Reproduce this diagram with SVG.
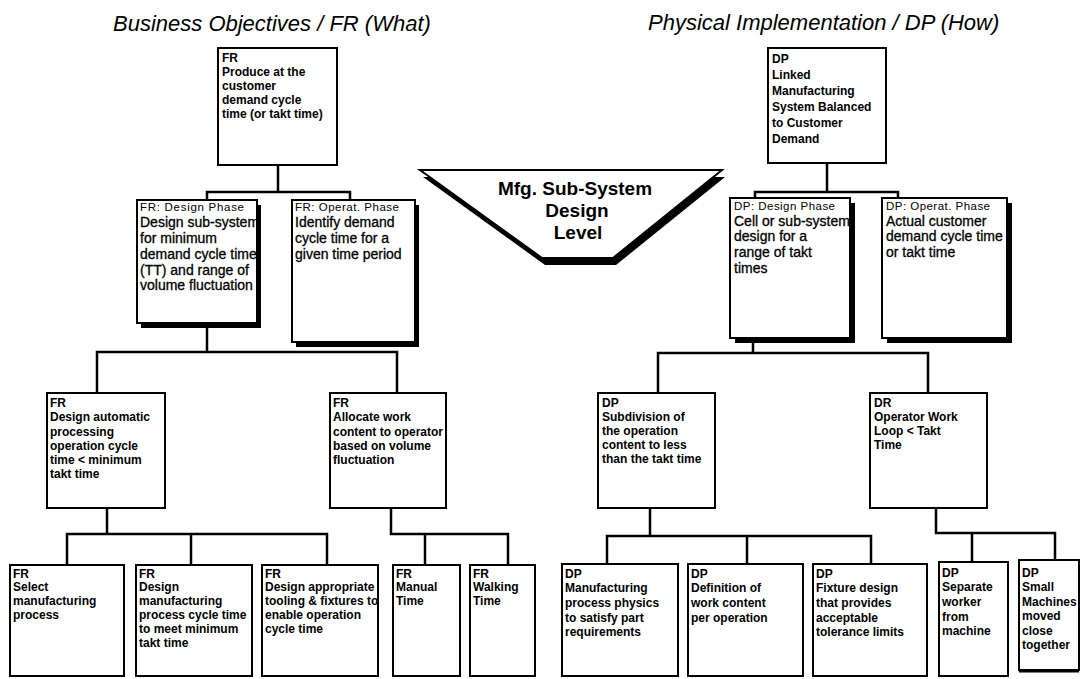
<svg xmlns="http://www.w3.org/2000/svg" width="1080" height="679" viewBox="0 0 1080 679">
  <style>
    .title { font-family: "Liberation Sans", Arial, sans-serif; font-style: italic; font-size: 22px; fill: #000; }
    .box { fill: #fff; stroke: #000; stroke-width: 2; }
    .shadow { fill: #000; }
    .t { font-family: "Liberation Sans", Arial, sans-serif; font-weight: bold; font-size: 12px; fill: #000; }
    .h { font-family: "Liberation Sans", Arial, sans-serif; font-size: 11.5px; fill: #000; }
    .b { font-family: "Liberation Sans", Arial, sans-serif; font-size: 14px; fill: #000; stroke: #000; stroke-width: 0.3; }
    .lvl { font-family: "Liberation Sans", Arial, sans-serif; font-weight: bold; font-size: 19px; fill: #000; text-anchor: middle; }
    .conn { fill: none; stroke: #000; stroke-width: 2.5; }
  </style>

  <rect width="1080" height="679" fill="#fff"/>

  <!-- column headings -->
  <text class="title" x="113" y="31">Business Objectives / FR (What)</text>
  <text class="title" x="648" y="30">Physical Implementation / DP (How)</text>

  <!-- tree connectors -->
  <g id="connectors">
    <path class="conn" d="M278,165 V192 M207,200 V192 H350 V200"/>
    <path class="conn" d="M827,163 V192 M755,198 V192 H898 V198"/>
    <path class="conn" d="M207,325 V352 M97,393 V352 H397 V393"/>
    <path class="conn" d="M753,339 V353 M658,393 V353 H928 V393"/>
    <path class="conn" d="M107,508 V534 M67,565 V534 H327 V565 M191,534 V565"/>
    <path class="conn" d="M391,508 V534 H508 V565 M425,534 V565"/>
    <path class="conn" d="M650,508 V536 M607,564 V536 H871 V564 M747,536 V564"/>
    <path class="conn" d="M936,508 V533 H1055 V560 M972,533 V562"/>
  </g>

  <!-- level marker -->
  <g id="level-marker">
    <polygon class="shadow" points="423,177 725,177 616,265 545,265"/>
    <polygon class="box" points="420,170 722,170 613,258 542,258"/>
    <text class="lvl" x="575" y="195">Mfg. Sub-System</text>
    <text class="lvl" x="577" y="217">Design</text>
    <text class="lvl" x="578" y="239">Level</text>
  </g>

  <!-- FR top -->
  <g id="fr-top">
    <rect class="box" x="218" y="48" width="119" height="117"/>
    <svg x="219" y="49" width="117" height="115">
      <text class="t" x="3" y="13">FR</text>
      <text class="t" x="3" y="27">Produce at the</text>
      <text class="t" x="3" y="41">customer</text>
      <text class="t" x="3" y="55">demand cycle</text>
      <text class="t" x="3" y="69">time (or takt time)</text>
    </svg>
  </g>

  <!-- DP top -->
  <g id="dp-top">
    <rect class="box" x="768" y="48" width="118" height="115"/>
    <svg x="769" y="49" width="116" height="113">
      <text class="t" x="3" y="14">DP</text>
      <text class="t" x="3" y="30">Linked</text>
      <text class="t" x="3" y="46">Manufacturing</text>
      <text class="t" x="3" y="62">System Balanced</text>
      <text class="t" x="3" y="78">to Customer</text>
      <text class="t" x="3" y="94">Demand</text>
    </svg>
  </g>

  <!-- FR design phase -->
  <g id="fr-design-phase">
    <rect class="shadow" x="141" y="205" width="120" height="123"/>
    <rect class="box" x="137" y="200" width="120" height="123"/>
    <svg x="138" y="201" width="118" height="121">
      <text class="h" x="2" y="10" textLength="104">FR: Design Phase</text>
      <text class="b" x="2" y="26">Design sub-system</text>
      <text class="b" x="2" y="42">for minimum</text>
      <text class="b" x="2" y="58">demand cycle time</text>
      <text class="b" x="2" y="74">(TT) and range of</text>
      <text class="b" x="2" y="89">volume fluctuation</text>
    </svg>
  </g>

  <!-- FR operational phase -->
  <g id="fr-operat-phase">
    <rect class="shadow" x="296" y="205" width="123" height="142"/>
    <rect class="box" x="292" y="200" width="123" height="142"/>
    <svg x="293" y="201" width="121" height="140">
      <text class="h" x="2" y="10" textLength="104">FR: Operat. Phase</text>
      <text class="b" x="2" y="26">Identify demand</text>
      <text class="b" x="2" y="42">cycle time for a</text>
      <text class="b" x="2" y="58">given time period</text>
    </svg>
  </g>

  <!-- DP design phase -->
  <g id="dp-design-phase">
    <rect class="shadow" x="735" y="203" width="120" height="140"/>
    <rect class="box" x="730" y="198" width="120" height="140"/>
    <svg x="731" y="199" width="118" height="138">
      <text class="h" x="3" y="11" textLength="101">DP: Design Phase</text>
      <text class="b" x="3" y="27">Cell or sub-system</text>
      <text class="b" x="3" y="42">design for a</text>
      <text class="b" x="3" y="58">range of takt</text>
      <text class="b" x="3" y="74">times</text>
    </svg>
  </g>

  <!-- DP operational phase -->
  <g id="dp-operat-phase">
    <rect class="shadow" x="887" y="203" width="125" height="140"/>
    <rect class="box" x="882" y="198" width="125" height="140"/>
    <svg x="883" y="199" width="123" height="138">
      <text class="h" x="3" y="11" textLength="104">DP: Operat. Phase</text>
      <text class="b" x="3" y="27">Actual customer</text>
      <text class="b" x="3" y="42">demand cycle time</text>
      <text class="b" x="3" y="58">or takt time</text>
    </svg>
  </g>

  <!-- FR level 3 -->
  <g id="fr-auto-processing">
    <rect class="box" x="47" y="393" width="118" height="115"/>
    <svg x="48" y="394" width="116" height="113">
      <text class="t" x="2" y="13">FR</text>
      <text class="t" x="2" y="27">Design automatic</text>
      <text class="t" x="2" y="42">processing</text>
      <text class="t" x="2" y="56">operation cycle</text>
      <text class="t" x="2" y="70">time &lt; minimum</text>
      <text class="t" x="2" y="84">takt time</text>
    </svg>
  </g>
  <g id="fr-allocate-work">
    <rect class="box" x="330" y="393" width="116" height="115"/>
    <svg x="331" y="394" width="114" height="113">
      <text class="t" x="2" y="13">FR</text>
      <text class="t" x="2" y="27">Allocate work</text>
      <text class="t" x="2" y="42">content to operator</text>
      <text class="t" x="2" y="56">based on volume</text>
      <text class="t" x="2" y="70">fluctuation</text>
    </svg>
  </g>

  <!-- DP level 3 -->
  <g id="dp-subdivision">
    <rect class="box" x="598" y="393" width="117" height="115"/>
    <svg x="599" y="394" width="115" height="113">
      <text class="t" x="3" y="13">DP</text>
      <text class="t" x="3" y="27">Subdivision of</text>
      <text class="t" x="3" y="41">the operation</text>
      <text class="t" x="3" y="55">content to less</text>
      <text class="t" x="3" y="69">than the takt time</text>
    </svg>
  </g>
  <g id="dr-work-loop">
    <rect class="box" x="870" y="393" width="117" height="115"/>
    <svg x="871" y="394" width="115" height="113">
      <text class="t" x="3" y="13">DR</text>
      <text class="t" x="3" y="27">Operator Work</text>
      <text class="t" x="3" y="41">Loop &lt; Takt</text>
      <text class="t" x="3" y="55">Time</text>
    </svg>
  </g>

  <!-- FR leaves -->
  <g id="fr-select-process">
    <rect class="box" x="10" y="565" width="114" height="111"/>
    <svg x="11" y="566" width="112" height="109">
      <text class="t" x="2" y="12">FR</text>
      <text class="t" x="2" y="25">Select</text>
      <text class="t" x="2" y="39">manufacturing</text>
      <text class="t" x="2" y="53">process</text>
    </svg>
  </g>
  <g id="fr-process-cycle">
    <rect class="box" x="136" y="565" width="116" height="111"/>
    <svg x="137" y="566" width="114" height="109">
      <text class="t" x="2" y="12">FR</text>
      <text class="t" x="2" y="25">Design</text>
      <text class="t" x="2" y="39">manufacturing</text>
      <text class="t" x="2" y="53">process cycle time</text>
      <text class="t" x="2" y="67">to meet minimum</text>
      <text class="t" x="2" y="81">takt time</text>
    </svg>
  </g>
  <g id="fr-tooling">
    <rect class="box" x="262" y="565" width="116" height="111"/>
    <svg x="263" y="566" width="114" height="109">
      <text class="t" x="2" y="12">FR</text>
      <text class="t" x="2" y="25">Design appropriate</text>
      <text class="t" x="2" y="39">tooling &amp; fixtures to</text>
      <text class="t" x="2" y="53">enable operation</text>
      <text class="t" x="2" y="67">cycle time</text>
    </svg>
  </g>
  <g id="fr-manual-time">
    <rect class="box" x="393" y="565" width="67" height="111"/>
    <svg x="394" y="566" width="65" height="109">
      <text class="t" x="2" y="12">FR</text>
      <text class="t" x="2" y="25">Manual</text>
      <text class="t" x="2" y="39">Time</text>
    </svg>
  </g>
  <g id="fr-walking-time">
    <rect class="box" x="470" y="565" width="65" height="111"/>
    <svg x="471" y="566" width="63" height="109">
      <text class="t" x="2" y="12">FR</text>
      <text class="t" x="2" y="25">Walking</text>
      <text class="t" x="2" y="39">Time</text>
    </svg>
  </g>

  <!-- DP leaves -->
  <g id="dp-process-physics">
    <rect class="box" x="562" y="564" width="116" height="112"/>
    <svg x="563" y="565" width="114" height="110">
      <text class="t" x="2" y="13">DP</text>
      <text class="t" x="2" y="27">Manufacturing</text>
      <text class="t" x="2" y="42">process physics</text>
      <text class="t" x="2" y="57">to satisfy part</text>
      <text class="t" x="2" y="71">requirements</text>
    </svg>
  </g>
  <g id="dp-work-content">
    <rect class="box" x="688" y="564" width="115" height="112"/>
    <svg x="689" y="565" width="113" height="110">
      <text class="t" x="2" y="13">DP</text>
      <text class="t" x="2" y="27">Definition of</text>
      <text class="t" x="2" y="42">work content</text>
      <text class="t" x="2" y="57">per operation</text>
    </svg>
  </g>
  <g id="dp-fixture-design">
    <rect class="box" x="813" y="564" width="114" height="112"/>
    <svg x="814" y="565" width="112" height="110">
      <text class="t" x="2" y="13">DP</text>
      <text class="t" x="2" y="27">Fixture design</text>
      <text class="t" x="2" y="42">that provides</text>
      <text class="t" x="2" y="57">acceptable</text>
      <text class="t" x="2" y="71">tolerance limits</text>
    </svg>
  </g>
  <g id="dp-separate-worker">
    <rect class="box" x="939" y="562" width="69" height="114"/>
    <svg x="940" y="563" width="67" height="112">
      <text class="t" x="2" y="14">DP</text>
      <text class="t" x="2" y="28">Separate</text>
      <text class="t" x="2" y="43">worker</text>
      <text class="t" x="2" y="58">from</text>
      <text class="t" x="2" y="72">machine</text>
    </svg>
  </g>
  <g id="dp-small-machines">
    <rect class="box" x="1019" y="560" width="60" height="110"/>
    <line x1="1019" y1="671" x2="1079" y2="671" stroke="#000" stroke-width="3"/>
    <svg x="1020" y="561" width="58" height="108">
      <text class="t" x="2" y="16">DP</text>
      <text class="t" x="2" y="30">Small</text>
      <text class="t" x="2" y="45">Machines</text>
      <text class="t" x="2" y="59">moved</text>
      <text class="t" x="2" y="74">close</text>
      <text class="t" x="2" y="88">together</text>
    </svg>
  </g>
</svg>
